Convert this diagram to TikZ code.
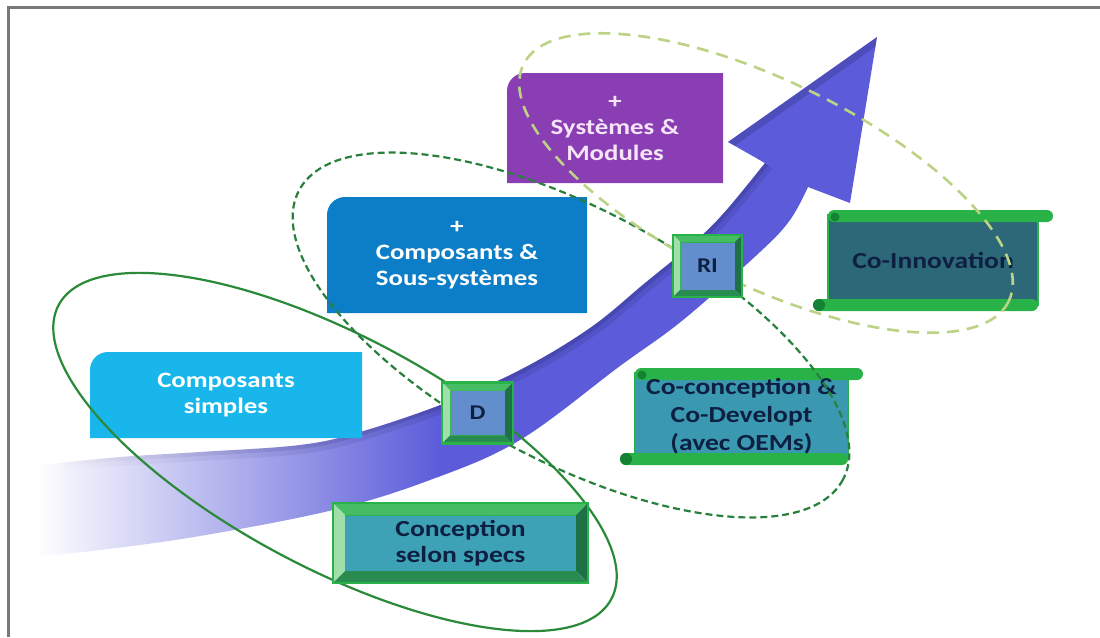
\documentclass[tikz,border=0pt]{standalone}
\usepackage{fontspec}
\setmainfont{Carlito}
\newfontfamily\labfont[FakeStretch=1.22]{Carlito}
\newfontfamily\dkfont[FakeStretch=1.2]{Carlito}
\usetikzlibrary{calc,fadings}
\pgfdeclarelayer{back}
\pgfdeclarelayer{boxes}
\pgfsetlayers{back,boxes,main}

\definecolor{framegray}{RGB}{120,120,120}
\definecolor{arrowc}{RGB}{92,92,218}
\definecolor{arrowdk}{RGB}{35,35,100}
\definecolor{cyanbox}{RGB}{24,182,235}
\definecolor{bluebox}{RGB}{12,126,200}
\definecolor{purplebox}{RGB}{138,62,180}
\definecolor{purpletext}{RGB}{246,228,248}
\definecolor{solidg}{RGB}{42,138,58}
\definecolor{dashg}{RGB}{40,128,60}
\definecolor{lightg}{RGB}{188,210,132}
\definecolor{bvgreen}{RGB}{40,178,72}
\definecolor{bvtop}{RGB}{70,188,100}
\definecolor{bvleft}{RGB}{160,222,170}
\definecolor{bvright}{RGB}{30,112,70}
\definecolor{bvbottom}{RGB}{40,140,80}
\definecolor{curlg}{RGB}{20,130,50}
\definecolor{tealin}{RGB}{62,162,182}
\definecolor{steelin}{RGB}{98,142,205}
\definecolor{scrollA}{RGB}{58,152,176}
\definecolor{scrollB}{RGB}{44,104,120}
\definecolor{darktext}{RGB}{14,32,66}

\tikzset{
  labbox/.style={rectangle, inner sep=0pt, outer sep=0pt, align=center,
    font=\labfont\bfseries\fontsize{22}{26}\selectfont, text=white},
  bevelin/.style={rectangle, fill=#1, draw=bvgreen, line width=1pt,
    inner sep=0pt, outer sep=0pt, align=center, text=darktext},
  scrollbody/.style={rectangle, inner sep=0pt, outer sep=0pt, align=center,
    text=darktext, font=\dkfont\bfseries\fontsize{23}{28}\selectfont},
  solidell/.style={draw=solidg, line width=2.2pt},
  darkell/.style={draw=dashg, line width=2.2pt, dash pattern=on 7pt off 4pt},
  lightell/.style={draw=lightg, line width=2.6pt, dash pattern=on 12pt off 8pt}
}

\newcommand\tlbox[2]{%
  \fill[#2] (#1.south west) -- (#1.south east) -- (#1.north east)
    -- ([xshift=18pt]#1.north west) arc[start angle=90, end angle=180, radius=18pt] -- cycle;}

\newcommand\bevelframe[2]{%
  \fill[bvtop] (#1.north west) -- (#1.north east) -- ([shift={(#2pt,#2pt)}]#1.north east) -- ([shift={(-#2pt,#2pt)}]#1.north west) -- cycle;
  \fill[bvleft] (#1.north west) -- (#1.south west) -- ([shift={(-#2pt,-#2pt)}]#1.south west) -- ([shift={(-#2pt,#2pt)}]#1.north west) -- cycle;
  \fill[bvright] (#1.north east) -- (#1.south east) -- ([shift={(#2pt,-#2pt)}]#1.south east) -- ([shift={(#2pt,#2pt)}]#1.north east) -- cycle;
  \fill[bvbottom] (#1.south west) -- (#1.south east) -- ([shift={(#2pt,-#2pt)}]#1.south east) -- ([shift={(-#2pt,-#2pt)}]#1.south west) -- cycle;
  \draw[bvgreen, line width=2.5pt] ([shift={(-#2pt,#2pt)}]#1.north west) rectangle ([shift={(#2pt,-#2pt)}]#1.south east);}

\newcommand\scrolldeco[2]{%
  \fill[#2] (#1.north west) rectangle (#1.south east);
  \draw[bvgreen, line width=2pt] (#1.north west) rectangle (#1.south east);
  \fill[bvgreen, rounded corners=6pt] ([yshift=5pt]#1.north west) rectangle ([xshift=15pt,yshift=-7pt]#1.north east);
  \fill[bvgreen, rounded corners=6pt] ([xshift=-15pt,yshift=6pt]#1.south west) rectangle ([yshift=-6pt]#1.south east);
  \fill[curlg] ([xshift=-9pt]#1.south west) circle (6pt);
  \fill[curlg] ([xshift=7pt,yshift=-2pt]#1.north west) circle (4.5pt);}

\begin{document}
\begin{tikzpicture}[x=1pt,y=-1pt]
\useasboundingbox (0,0) rectangle (1100,637);

\begin{pgfonlayer}{back}
\fill[white] (0,0) rectangle (1100,637);
\draw[framegray, line width=3pt] (8,637) -- (8,7) -- (1100,7);
\begin{scope}
  \clip (40,465) -- plot[smooth, tension=0.6] coordinates {(40,465) (120,457) (200,452) (300,445) (360,432) (443,404) (520,370) (590,328) (645,283) (690,246) (723,214) (765,163)}
    -- (728,142) -- (877,37) -- (850,203)
    -- plot[smooth, tension=0.6] coordinates {(808,187) (790,220) (760,252) (683,320) (620,366) (520,440) (430,480) (333,510) (200,536) (100,550) (40,556)} -- cycle;
  \shade[left color=white, right color=arrowc] (35,0) rectangle (440,637);
  \fill[arrowc] (439,0) rectangle (900,637);
  \draw[arrowdk, line width=18pt, opacity=.15, path fading=west] plot[smooth, tension=0.6] coordinates {(60,462) (120,457) (200,452) (300,445) (360,432) (443,404)};
  \draw[arrowdk, line width=8pt, opacity=.22, path fading=west] plot[smooth, tension=0.6] coordinates {(60,462) (120,457) (200,452) (300,445) (360,432) (443,404)};
  \draw[arrowdk, line width=18pt, opacity=.15] plot[smooth, tension=0.6] coordinates {(443,404) (520,370) (590,328) (645,283) (690,246) (723,214) (765,163)};
  \draw[arrowdk, line width=8pt, opacity=.22] plot[smooth, tension=0.6] coordinates {(443,404) (520,370) (590,328) (645,283) (690,246) (723,214) (765,163)};
  \draw[arrowdk, line width=14pt, opacity=.25] (728,142) -- (877,37);
\end{scope}
\end{pgfonlayer}

% label boxes
\node[labbox, minimum width=272pt, minimum height=86pt] (simp) at (226,395) {Composants\\simples};
\node[labbox, minimum width=260pt, minimum height=116pt] (comp) at (457,255) {+\\Composants \&\\Sous-systèmes};
\node[labbox, minimum width=216pt, minimum height=110pt, text=purpletext] (sys) at (615,128) {+\\Systèmes \&\\Modules};
\begin{pgfonlayer}{boxes}
  \tlbox{simp}{cyanbox}
  \tlbox{comp}{bluebox}
  \tlbox{sys}{purplebox}
\end{pgfonlayer}

% scrolls
\node[scrollbody, minimum width=213pt, minimum height=86pt] (cocon) at (741.5,416) {Co-conception \&\\Co-Developt\\(avec OEMs)};
\node[scrollbody, minimum width=210pt, minimum height=90pt] (coinno) at (933,260) {Co-Innovation};
\begin{pgfonlayer}{boxes}
  \scrolldeco{cocon}{scrollA}
  \scrolldeco{coinno}{scrollB}
\end{pgfonlayer}

% ellipses
\draw[solidell, rotate around={-28:(335,452)}] (335,452) ellipse [x radius=313, y radius=116];
\draw[darkell, rotate around={-28:(571,335)}] (571,335) ellipse [x radius=308, y radius=126];
\draw[lightell, rotate around={-26:(766,183)}] (766,183) ellipse [x radius=270, y radius=102];

% bevel boxes
\node[bevelin=tealin, minimum width=231pt, minimum height=56pt, font=\dkfont\bfseries\fontsize{23}{26}\selectfont] (concep) at (460.5,543) {Conception\\selon specs};
\bevelframe{concep}{12}
\node[bevelin=steelin, minimum width=55pt, minimum height=45pt, font=\dkfont\bfseries\fontsize{21}{24}\selectfont] (dbox) at (477.5,413) {D};
\bevelframe{dbox}{8}
\node[bevelin=steelin, minimum width=55pt, minimum height=48pt, font=\dkfont\bfseries\fontsize{21}{24}\selectfont] (ribox) at (707.5,266) {RI};
\bevelframe{ribox}{7}
\end{tikzpicture}
\end{document}
